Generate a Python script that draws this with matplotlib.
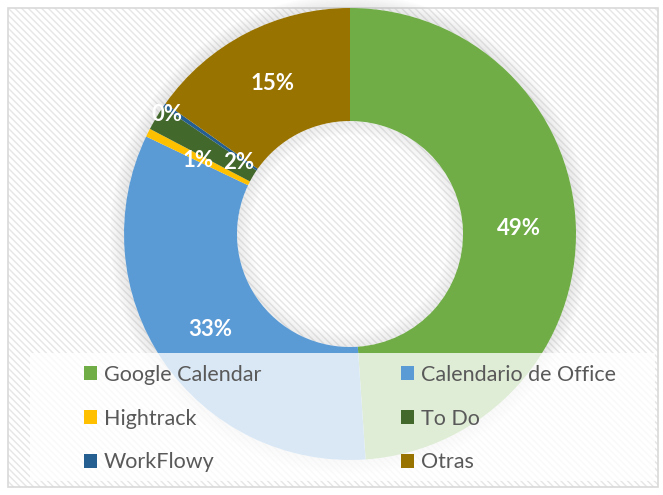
import numpy as np
import matplotlib.pyplot as plt
from matplotlib.patches import Rectangle, Wedge, Patch

plt.rcParams['font.family'] = ['Lato', 'DejaVu Sans']

# --- data ---
apps = ["Google Calendar", "Calendario de Office", "Hightrack", "To Do", "WorkFlowy", "Otras"]
shares = [48.9, 33.2, 0.6, 1.8, 0.3, 15.2]
pct_labels = ["49%", "33%", "1%", "2%", "0%", "15%"]
colors = ["#70ad47", "#5b9bd5", "#ffc000", "#43682b", "#255e91", "#997300"]
# manual nudges for the crowded little labels (data units)
label_nudge = [(0, 0), (0, 0), (0, -0.01), (0.15, -0.07), (-0.195, 0.10), (0, 0)]

W, H = 663, 495
cx, cy, R = 350, 234, 226   # pixel centre / radius of the donut

fig = plt.figure(figsize=(W / 100, H / 100), dpi=100)
fig.patch.set_facecolor("white")

# chart area: faint diagonal stripes + light frame
bg = Rectangle((8 / W, 8 / H), 650 / W, 479 / H, transform=fig.transFigure,
               facecolor="white", edgecolor="#e6e6e6", hatch="\\\\\\\\\\", lw=0, zorder=-3)
fig.patches.append(bg)
frame = Rectangle((8 / W, 8 / H), 650 / W, 479 / H, transform=fig.transFigure,
                  facecolor="none", edgecolor="#d9d9d9", lw=1.2, zorder=-2)
fig.patches.append(frame)

ax = fig.add_axes([0, 0, 1, 1])
ax.patch.set_alpha(0)

# soft shadow around the ring and inside the hole
for i in range(12):
    ax.add_patch(Wedge((0, 0), 1 + 0.005 * (i + 1), 0, 360, width=0.005,
                       facecolor="#8c8c8c", alpha=0.2 - 0.016 * i, lw=0, zorder=1))
for i in range(10):
    ax.add_patch(Wedge((0, 0), 0.5 - 0.006 * i, 0, 360, width=0.006,
                       facecolor="#9a9a9a", alpha=0.18 - 0.017 * i, lw=0, zorder=1))

wedges, _ = ax.pie(shares, colors=colors, startangle=90, counterclock=False,
                   radius=1, wedgeprops=dict(width=0.5, edgecolor="none", zorder=2))

# percentage labels in the middle of the ring
cum = np.cumsum([0] + shares[:-1])
for start, val, txt, (dx, dy) in zip(cum, shares, pct_labels, label_nudge):
    mid = np.deg2rad(90 - (start + val / 2) * 3.6)
    x = 0.75 * np.cos(mid) + dx
    y = 0.75 * np.sin(mid) + dy
    ax.text(x, y, txt, ha="center", va="center", color="white",
            fontsize=16, fontweight="bold", zorder=5)

ax.set_xlim(-cx / R, (W - cx) / R)
ax.set_ylim(-(H - cy) / R, cy / R)
ax.set_aspect("auto")
ax.axis("off")

# legend background (semi transparent white over the donut)
leg_bg = Rectangle((30 / W, 1 - 481 / H), 625 / W, 128 / H, transform=fig.transFigure,
                   facecolor="white", alpha=0.78, lw=0, zorder=3)
fig.patches.append(leg_bg)

order = [0, 2, 4, 1, 3, 5]
handles = [Patch(facecolor=colors[i], edgecolor="none") for i in order]
labels = [apps[i] for i in order]
leg = fig.legend(handles, labels, ncol=2, loc="upper left",
                 bbox_to_anchor=(84 / W, 1 - 365 / H), frameon=False,
                 fontsize=15.5, labelcolor="#595959", handlelength=0.62,
                 handleheight=0.62, handletextpad=0.3, labelspacing=1.1,
                 columnspacing=6.5, borderpad=0, borderaxespad=0)
leg.set_zorder(6)

fig.savefig("out.png", dpi=100)
